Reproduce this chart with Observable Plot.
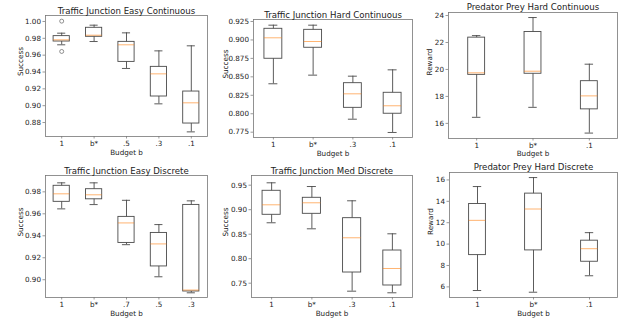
<!DOCTYPE html>
<html><head><meta charset="utf-8">
<script src="https://cdn.jsdelivr.net/npm/d3@7"></script>
<script src="https://cdn.jsdelivr.net/npm/@observablehq/plot@0.6"></script>
<style>
html,body{margin:0;padding:0;background:#fff;}
#fig{position:relative;width:627px;height:321px;overflow:hidden;background:#fff;}
#fig svg{position:absolute;}
</style></head><body><div id="fig"></div>
<script>
// ---- Data (box statistics) ----
// Traffic Junction Easy Continuous
const tjecCats = ["1", "b*", ".5", ".3", ".1"];
const tjecLo  = [0.9723, 0.9762, 0.9442, 0.9022, 0.8689];
const tjecQ1  = [0.9762, 0.9818, 0.9520, 0.9109, 0.8788];
const tjecMed = [0.9782, 0.9837, 0.9723, 0.9378, 0.9034];
const tjecQ3  = [0.9826, 0.9925, 0.9758, 0.9461, 0.9168];
const tjecHi  = [0.9861, 0.9956, 0.9865, 0.9651, 0.9711];
const tjecOutCat = ["1", "1"];
const tjecOutVal = [1.0004, 0.9644];
const tjecTicks = [0.88, 0.90, 0.92, 0.94, 0.96, 0.98, 1.00];

// Traffic Junction Hard Continuous
const tjhcCats = ["1", "b*", ".3", ".1"];
const tjhcLo  = [0.8406, 0.8523, 0.7926, 0.7746];
const tjhcQ1  = [0.8745, 0.8894, 0.8080, 0.8000];
const tjhcMed = [0.9029, 0.8979, 0.8270, 0.8108];
const tjhcQ3  = [0.9151, 0.9137, 0.8414, 0.8284];
const tjhcHi  = [0.9200, 0.9200, 0.8509, 0.8595];
const tjhcTicks = [0.775, 0.800, 0.825, 0.850, 0.875, 0.900, 0.925];

// Predator Prey Hard Continuous
const pphcCats = ["1", "b*", ".1"];
const pphcLo  = [16.45, 17.19, 15.28];
const pphcQ1  = [19.60, 19.68, 17.04];
const pphcMed = [19.75, 19.87, 18.04];
const pphcQ3  = [22.36, 22.78, 19.13];
const pphcHi  = [22.51, 23.85, 20.39];
const pphcTicks = [16, 18, 20, 22, 24];

// Traffic Junction Easy Discrete
const tjedCats = ["1", "b*", ".7", ".5", ".3"];
const tjedLo  = [0.9645, 0.9684, 0.9319, 0.9027, 0.8881];
const tjedQ1  = [0.9709, 0.9732, 0.9335, 0.9121, 0.8893];
const tjedMed = [0.9782, 0.9773, 0.9517, 0.9326, 0.8906];
const tjedQ3  = [0.9855, 0.9824, 0.9572, 0.9426, 0.9681];
const tjedHi  = [0.9882, 0.9882, 0.9723, 0.9502, 0.9718];
const tjedTicks = [0.90, 0.92, 0.94, 0.96, 0.98];

// Traffic Junction Med Discrete
const tjmdCats = ["1", "b*", ".3", ".1"];
const tjmdLo  = [0.8733, 0.8610, 0.7337, 0.7304];
const tjmdQ1  = [0.8896, 0.8916, 0.7718, 0.7453];
const tjmdMed = [0.9100, 0.9141, 0.8427, 0.7800];
const tjmdQ3  = [0.9386, 0.9243, 0.8827, 0.8167];
const tjmdHi  = [0.9549, 0.9473, 0.9182, 0.8508];
const tjmdTicks = [0.75, 0.80, 0.85, 0.90, 0.95];

// Predator Prey Hard Discrete
const pphdCats = ["1", "b*", ".1"];
const pphdLo  = [5.66, 5.50, 7.04];
const pphdQ1  = [8.97, 9.41, 8.35];
const pphdMed = [12.22, 13.28, 9.57];
const pphdQ3  = [13.75, 14.72, 10.32];
const pphdHi  = [15.38, 16.22, 11.07];
const pphdTicks = [6, 8, 10, 12, 14, 16];

const xLabel = "Budget b";

// ---- Panels ----
const panels = [
  {title: "Traffic Junction Easy Continuous", ylabel: "Success", cats: tjecCats, lo: tjecLo, q1: tjecQ1, med: tjecMed, q3: tjecQ3, hi: tjecHi,
   outCat: tjecOutCat, outVal: tjecOutVal, ticks: tjecTicks, fmt: d3.format(".2f"), domain: [0.8634, 1.0071],
   left: 0, top: 0, width: 210, height: 160, ml: 45, mr: 3, mt: 15, mb: 24, tdy: -2, xdy: 16.3, ydx: -25},
  {title: "Traffic Junction Hard Continuous", ylabel: "Success", cats: tjhcCats, lo: tjhcLo, q1: tjhcQ1, med: tjhcMed, q3: tjhcQ3, hi: tjhcHi,
   outCat: [], outVal: [], ticks: tjhcTicks, fmt: d3.format(".3f"), domain: [0.7678, 0.9277],
   left: 210, top: 0, width: 207, height: 160, ml: 43, mr: 5, mt: 19, mb: 23, tdy: -2, xdy: 16, ydx: -28},
  {title: "Predator Prey Hard Continuous", ylabel: "Reward", cats: pphcCats, lo: pphcLo, q1: pphcQ1, med: pphcMed, q3: pphcQ3, hi: pphcHi,
   outCat: [], outVal: [], ticks: pphcTicks, fmt: d3.format("d"), domain: [14.879, 24.224],
   left: 417, top: 0, width: 210, height: 160, ml: 31, mr: 10, mt: 12, mb: 22, tdy: -3, xdy: 15, ydx: -19},
  {title: "Traffic Junction Easy Discrete", ylabel: "Success", cats: tjedCats, lo: tjedLo, q1: tjedQ1, med: tjedMed, q3: tjedQ3, hi: tjedHi,
   outCat: [], outVal: [], ticks: tjedTicks, fmt: d3.format(".2f"), domain: [0.88383, 0.99487],
   left: 0, top: 160, width: 210, height: 161, ml: 45, mr: 3, mt: 15, mb: 24, tdy: -2, xdy: 16.5, ydx: -25},
  {title: "Traffic Junction Med Discrete", ylabel: "Success", cats: tjmdCats, lo: tjmdLo, q1: tjmdQ1, med: tjmdMed, q3: tjmdQ3, hi: tjmdHi,
   outCat: [], outVal: [], ticks: tjmdTicks, fmt: d3.format(".2f"), domain: [0.7208, 0.9698],
   left: 210, top: 160, width: 207, height: 161, ml: 41, mr: 5, mt: 15, mb: 24, tdy: -2, xdy: 16.3, ydx: -25.7},
  {title: "Predator Prey Hard Discrete", ylabel: "Reward", cats: pphdCats, lo: pphdLo, q1: pphdQ1, med: pphdMed, q3: pphdQ3, hi: pphdHi,
   outCat: [], outVal: [], ticks: pphdTicks, fmt: d3.format("d"), domain: [5.007, 16.694],
   left: 417, top: 160, width: 210, height: 161, ml: 32, mr: 10, mt: 12, mb: 24, tdy: -2.5, xdy: 16.3, ydx: -19.3}
];

// matplotlib default box width rule
const boxWidth = n => Math.min(0.5, Math.max(0.15, 0.15 * (n - 1)));

const fig = document.getElementById("fig");
const LINE = "#4a4a4a";
const LW = 0.9;
const TEXT = "#222";

for (const p of panels) {
  const n = p.cats.length;
  const w = boxWidth(n);
  const rows = p.cats.map((c, i) => ({pos: i + 1, lo: p.lo[i], q1: p.q1[i], med: p.med[i], q3: p.q3[i], hi: p.hi[i]}));
  const outs = p.outCat.map((c, i) => ({pos: p.cats.indexOf(c) + 1, v: p.outVal[i]}));
  const plot = Plot.plot({
    width: p.width, height: p.height,
    marginLeft: p.ml, marginRight: p.mr, marginTop: p.mt, marginBottom: p.mb,
    x: {domain: [0.5, n + 0.5]},
    y: {domain: p.domain},
    style: {fontFamily: "DejaVu Sans", fontSize: "7.2px", background: "transparent", overflow: "visible", color: TEXT},
    marks: [
      Plot.ruleX(rows, {x: "pos", y1: "lo", y2: "q1", stroke: LINE, strokeWidth: LW}),
      Plot.ruleX(rows, {x: "pos", y1: "q3", y2: "hi", stroke: LINE, strokeWidth: LW}),
      Plot.ruleY(rows, {y: "lo", x1: d => d.pos - w / 4, x2: d => d.pos + w / 4, stroke: LINE, strokeWidth: LW}),
      Plot.ruleY(rows, {y: "hi", x1: d => d.pos - w / 4, x2: d => d.pos + w / 4, stroke: LINE, strokeWidth: LW}),
      Plot.rect(rows, {x1: d => d.pos - w / 2, x2: d => d.pos + w / 2, y1: "q1", y2: "q3", fill: "none", stroke: LINE, strokeWidth: LW}),
      Plot.ruleY(rows, {y: "med", x1: d => d.pos - w / 2, x2: d => d.pos + w / 2, stroke: "#ff7f0e", strokeOpacity: 0.65, strokeWidth: LW}),
      Plot.dot(outs, {x: "pos", y: "v", r: 2, stroke: LINE, fill: "none", strokeWidth: 0.6}),
      Plot.axisX({ticks: d3.range(1, n + 1), tickFormat: i => p.cats[i - 1], tickSize: 2.5, tickPadding: 2, label: null, stroke: "#555", strokeWidth: 0.6, fill: TEXT}),
      Plot.axisY({ticks: p.ticks, tickFormat: p.fmt, tickSize: 2.5, tickPadding: 2, label: null, stroke: "#555", strokeWidth: 0.6, fill: TEXT}),
      Plot.frame({stroke: "#777", strokeWidth: 0.8}),
      Plot.text([p.title], {text: d => d, frameAnchor: "top", lineAnchor: "bottom", dy: p.tdy, fontSize: 8.6, fill: TEXT}),
      Plot.text([xLabel], {text: d => d, frameAnchor: "bottom", lineAnchor: "middle", dy: p.xdy, fill: TEXT}),
      Plot.text([p.ylabel], {text: d => d, frameAnchor: "left", lineAnchor: "middle", rotate: -90, dx: p.ydx, fill: TEXT})
    ]
  });
  plot.style.left = p.left + "px";
  plot.style.top = p.top + "px";
  fig.appendChild(plot);
}
</script>
</body></html>
